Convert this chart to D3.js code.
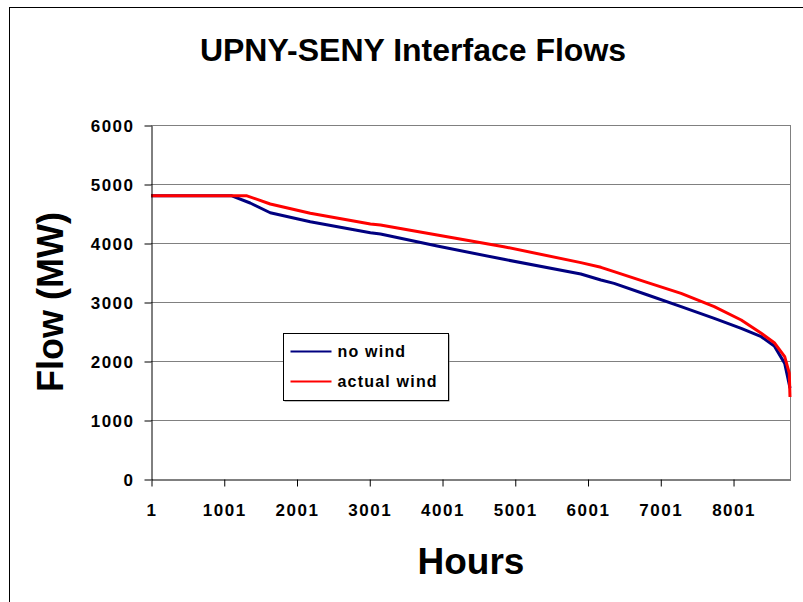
<!DOCTYPE html>
<html>
<head>
<meta charset="utf-8">
<script src="https://cdn.jsdelivr.net/npm/d3@7"></script>
<style>
  body { margin: 0; background: #fff; }
  text { font-family: Arial, "Liberation Sans", sans-serif; font-weight: bold; }
</style>
</head>
<body>
<div id="chart"></div>
<script>
// duration curve points (hour, MW)
var noWindHours  = [1, 1112, 1364, 1640, 2190, 3017, 3155, 3935, 4850, 5909, 6185, 6366, 6828, 7287, 7743, 8113, 8389, 8568, 8711, 8774, 8784];
var noWindFlow   = [4800, 4800, 4678, 4513, 4361, 4175, 4152, 3949, 3723, 3475, 3373, 3316, 3119, 2921, 2723, 2553, 2412, 2254, 1960, 1600, 1540];
var actualHours  = [1, 1320, 1640, 2190, 3017, 3155, 3935, 4850, 5909, 6185, 6366, 6828, 7287, 7743, 8113, 8389, 8568, 8711, 8774, 8784];
var actualFlow   = [4800, 4800, 4661, 4503, 4322, 4305, 4136, 3938, 3667, 3588, 3514, 3328, 3147, 2921, 2695, 2469, 2310, 2073, 1796, 1390];
var xTicks = [1, 1001, 2001, 3001, 4001, 5001, 6001, 7001, 8001];
var yTicks = [0, 1000, 2000, 3000, 4000, 5000, 6000];
var seriesNames = ["no wind", "actual wind"];
var seriesColors = ["#000080", "#ff0000"];

var width = 803, height = 602;
var plotLeft = 151, plotRight = 790, plotTop = 125, plotBottom = 479;

var svg = d3.select("#chart").append("svg")
  .attr("width", width)
  .attr("height", height);

// outer chart frame (runs off the page on right and bottom)
svg.append("rect")
  .attr("x", 9.5).attr("y", 7.5)
  .attr("width", 900).attr("height", 700)
  .attr("fill", "none").attr("stroke", "#000");

var x = d3.scaleLinear().domain([1, 8784]).range([plotLeft, plotRight]);
var y = d3.scaleLinear().domain([0, 6000]).range([plotBottom, plotTop]);

// gridlines
svg.append("g").selectAll("line")
  .data(yTicks.slice(1))
  .enter().append("line")
  .attr("x1", plotLeft).attr("x2", plotRight)
  .attr("y1", function(d){ return Math.round(y(d)) + 0.5; })
  .attr("y2", function(d){ return Math.round(y(d)) + 0.5; })
  .attr("stroke", "#808080");

// right border of plot
svg.append("line")
  .attr("x1", plotRight + 0.5).attr("x2", plotRight + 0.5)
  .attr("y1", plotTop).attr("y2", plotBottom)
  .attr("stroke", "#808080");

// series
var line = d3.line()
  .x(function(d){ return x(d[0]); })
  .y(function(d){ return y(d[1]); });

var series = [
  d3.zip(noWindHours, noWindFlow),
  d3.zip(actualHours, actualFlow)
];

svg.append("g").selectAll("path")
  .data(series)
  .enter().append("path")
  .attr("d", line)
  .attr("fill", "none")
  .attr("stroke", function(d, i){ return seriesColors[i]; })
  .attr("stroke-width", 3)
  .attr("stroke-linejoin", "round");

// y axis
var yAxis = svg.append("g")
  .attr("transform", "translate(" + (plotLeft + 0.5) + ",0.5)")
  .call(d3.axisLeft(y).tickValues(yTicks).tickSize(7).tickSizeOuter(0).tickFormat(d3.format("d")));
yAxis.select(".domain").attr("stroke", "#000");
yAxis.selectAll(".tick line").attr("stroke", "#000");
yAxis.selectAll(".tick text")
  .attr("x", -17).attr("dy", "0.36em")
  .style("font-size", "17px").style("letter-spacing", "1.5px")
  .attr("fill", "#000");

// x axis
var xAxis = svg.append("g")
  .attr("transform", "translate(0.5," + (plotBottom + 0.5) + ")")
  .call(d3.axisBottom(x).tickValues(xTicks).tickSize(7).tickSizeOuter(0).tickFormat(d3.format("d")));
xAxis.select(".domain").attr("stroke", "#000");
xAxis.selectAll(".tick line").attr("stroke", "#000");
xAxis.selectAll(".tick text")
  .attr("y", 24).attr("dy", "0.71em")
  .style("font-size", "17px").style("letter-spacing", "1.5px")
  .attr("fill", "#000");

// titles
svg.append("text")
  .attr("x", 413).attr("y", 61)
  .attr("text-anchor", "middle")
  .style("font-size", "32px")
  .text("UPNY-SENY Interface Flows");

svg.append("text")
  .attr("transform", "translate(63,302) rotate(-90)")
  .attr("text-anchor", "middle")
  .style("font-size", "36px")
  .text("Flow (MW)");

svg.append("text")
  .attr("x", 471).attr("y", 574)
  .attr("text-anchor", "middle")
  .style("font-size", "37px")
  .text("Hours");

// legend
var legend = svg.append("g").attr("transform", "translate(283.5,333.5)");
legend.append("rect")
  .attr("x", 1).attr("y", 1)
  .attr("width", 165).attr("height", 67)
  .attr("fill", "#808080");
legend.append("rect")
  .attr("width", 165).attr("height", 67)
  .attr("fill", "#fff").attr("stroke", "#000");

var items = legend.selectAll(".item")
  .data(seriesNames)
  .enter().append("g")
  .attr("class", "item")
  .attr("transform", function(d, i){ return "translate(0," + (18 + i * 30) + ")"; });

items.append("line")
  .attr("x1", 7).attr("x2", 48)
  .attr("stroke", function(d, i){ return seriesColors[i]; })
  .attr("stroke-width", 2);

items.append("text")
  .attr("x", 54).attr("dy", "0.36em")
  .style("font-size", "16px").style("letter-spacing", "1.2px")
  .text(function(d){ return d; });
</script>
</body>
</html>
